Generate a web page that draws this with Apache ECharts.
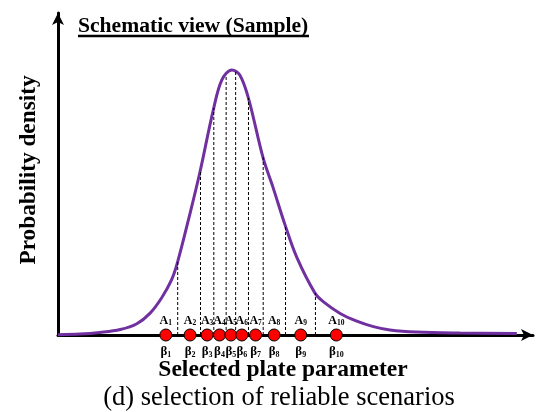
<!DOCTYPE html>
<html>
<head>
<meta charset="utf-8">
<script src="https://cdn.jsdelivr.net/npm/echarts@6/dist/echarts.min.js"></script>
<style>
  html, body { margin: 0; padding: 0; background: #ffffff; }
  #chart { width: 539px; height: 412px; }
</style>
</head>
<body>
<div id="chart"></div>
<script>
// Skewed probability density of the plate parameter (arbitrary units)
const curveX = [0, 4.6, 8.8, 13.1, 16.6, 19.4, 21.8, 23.9, 25.2, 27.8, 29.9, 32.7, 34.5, 36.6,
                38.3, 40.1, 43.2, 45.3, 47.8, 50.3, 54.1, 55.9, 59.4, 62.9, 66.4, 69.9, 75.5, 84.6, 96.6];
const curveY = [0.1, 0.3, 0.8, 1.7, 3.5, 6.8, 11.5, 17.1, 22.8, 37.8, 50.7, 69.9, 79.2, 82.3,
                80.7, 73.5, 54.9, 45.7, 34.2, 24.0, 13.0, 10.3, 6.7, 4.3, 2.6, 1.55, 0.9, 0.6, 0.45];

// Representative values β1..β10 of each scenario
const betaX = [22.7, 27.8, 31.4, 34.0, 36.4, 38.7, 41.6, 45.5, 51.1, 58.6];
const scenarioIds = ['1', '2', '3', '4', '5', '6', '7', '8', '9', '10'];

// Borders between the areas A1..A10 and the density reached at each border
const boundaryX = [25.2, 30.0, 32.8, 35.4, 37.4, 40.1, 43.2, 47.9, 54.2];
const boundaryTop = [22.8, 51.0, 70.5, 80.7, 81.7, 73.6, 55.3, 33.9, 13.0];

const titleText = 'Schematic view (Sample)';
const xName = 'Selected plate parameter';
const yName = 'Probability density';
const caption = '(d) selection of reliable scenarios';

const serif = '"Liberation Serif", "Times New Roman", serif';

const chart = echarts.init(document.getElementById('chart'), null, { renderer: 'canvas' });

// symbol + subscript, e.g. β with index
const betaRich = {
  m: { fontFamily: serif, fontWeight: 'bold', fontSize: 13, color: '#000', lineHeight: 14 },
  s: { fontFamily: serif, fontWeight: 'bold', fontSize: 8, color: '#000', lineHeight: 9, padding: [7, 0, 0, 0] }
};
// same idea for the zrender text drawn by the custom series (uses fill)
const areaRich = {
  m: { fontFamily: serif, fontWeight: 'bold', fontSize: 12, fill: '#000', lineHeight: 13 },
  s: { fontFamily: serif, fontWeight: 'bold', fontSize: 7.5, fill: '#000', lineHeight: 9, padding: [6, 0, 0, 0] }
};

chart.setOption({
  animation: false,
  backgroundColor: '#ffffff',
  grid: { left: 58, right: 6, top: 13, bottom: 77, containLabel: false },
  xAxis: {
    type: 'value', min: 0, max: 100,
    name: xName, nameLocation: 'middle', nameGap: 23,
    nameTextStyle: { fontFamily: serif, fontWeight: 'bold', fontSize: 23.5, color: '#000', padding: [0, 25, 0, 0] },
    axisLine: { show: true, onZero: false, symbol: ['none', 'arrow'], symbolSize: [9, 12],
                lineStyle: { color: '#000', width: 3 } },
    axisTick: { show: false }, axisLabel: { show: false }, splitLine: { show: false }
  },
  yAxis: {
    type: 'value', min: 0, max: 100,
    name: yName, nameLocation: 'middle', nameGap: 18, nameRotate: 90,
    nameTextStyle: { fontFamily: serif, fontWeight: 'bold', fontSize: 23.3, color: '#000', padding: [0, 0, 0, 8] },
    axisLine: { show: true, onZero: false, symbol: ['none', 'arrow'], symbolSize: [9, 12],
                lineStyle: { color: '#000', width: 3 } },
    axisTick: { show: false }, axisLabel: { show: false }, splitLine: { show: false }
  },
  graphic: [
    {
      type: 'text', left: 78, top: 15, z: 10,
      style: { text: titleText, fontFamily: serif, fontWeight: 'bold', fontSize: 21.6, fill: '#000' }
    },
    {
      type: 'line', z: 10,
      shape: { x1: 78, y1: 36, x2: 309, y2: 36 },
      style: { stroke: '#000', lineWidth: 2.5 }
    },
    {
      type: 'text', x: 279, y: 398, z: 10,
      style: { text: caption, fontFamily: serif, fontSize: 26.5, fill: '#000',
               align: 'center', verticalAlign: 'middle' }
    }
  ],
  series: [
    {
      name: 'density', type: 'line', smooth: 0.35, showSymbol: false, clip: false, z: 2,
      data: curveX.map((x, i) => [x, curveY[i]]),
      lineStyle: { color: '#7030A0', width: 3 },
      silent: true
    },
    {
      name: 'borders', type: 'custom', z: 3, silent: true,
      data: boundaryX.map((x, i) => [x, boundaryTop[i]]),
      renderItem: function (params, api) {
        const p0 = api.coord([api.value(0), 0]);
        const p1 = api.coord([api.value(0), api.value(1)]);
        return {
          type: 'line',
          shape: { x1: p0[0], y1: p0[1], x2: p1[0], y2: p1[1] },
          style: { stroke: '#000', lineWidth: 1, lineDash: [3, 2] }
        };
      }
    },
    {
      name: 'beta', type: 'scatter', z: 5, silent: true,
      data: betaX.map(x => [x, 0]),
      symbolSize: 12,
      itemStyle: { color: '#ff0000', borderColor: '#000', borderWidth: 1, opacity: 1 },
      label: {
        show: true, position: 'bottom', distance: 3,
        formatter: p => '{m|β}{s|' + scenarioIds[p.dataIndex] + '}',
        rich: betaRich
      }
    },
    {
      name: 'area', type: 'custom', z: 6, silent: true,
      data: betaX.map(x => [x, 0]),
      renderItem: function (params, api) {
        const p = api.coord([api.value(0), 0]);
        return {
          type: 'text',
          x: p[0], y: p[1] - 8,
          style: {
            text: '{m|A}{s|' + scenarioIds[params.dataIndex] + '}',
            rich: areaRich,
            align: 'center', verticalAlign: 'bottom'
          }
        };
      }
    }
  ]
});
</script>
</body>
</html>
